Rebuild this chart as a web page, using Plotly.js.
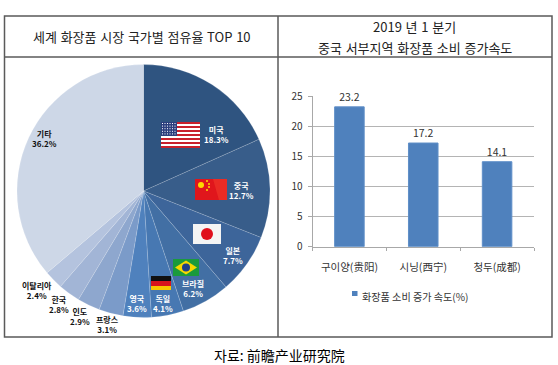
<!DOCTYPE html>
<html>
<head>
<meta charset="utf-8">
<script src="https://cdn.plot.ly/plotly-3.0.1.min.js"></script>
<style>html,body{margin:0;padding:0;background:#fff}</style>
</head>
<body>
<div id="chart" style="width:558px;height:365px"></div>
<script>
var W = 558, H = 365;
var countries = ['미국','중국','일본','브라질','독일','영국','프랑스','인도','한국','이탈리아','기타'];
var shares = [18.3,12.7,7.7,6.2,4.1,3.6,3.1,2.9,2.8,2.4,36.2];
var sliceColors = ['#2f5480','#385d8a','#3d659a','#426fa4','#4778b2','#4f81bd','#7b9bc9','#8ea7ce','#a2b5d6','#b4c3de','#cdd7e7'];
var labelX = [216,241,233,193,163,137,107,80,59,37,44];
var labelY = [134,190,255,288,303,303,324,316,304,290,138];
var labelColors = ['#fff','#fff','#fff','#fff','#fff','#fff','#111','#111','#111','#111','#111'];
var cities = ['구이양(贵阳)','시닝(西宁)','청두(成都)'];
var growth = [23.2,17.2,14.1];
var seriesName = '화장품 소비 증가 속도(%)';
var leftTitle = '세계 화장품 시장 국가별 점유율 TOP 10';
var rightTitle1 = '2019 년 1 분기';
var rightTitle2 = '중국 서부지역 화장품 소비 증가속도';
var sourceText = '자료: 前瞻产业研究院';
var FONT = '"Noto Sans CJK KR","Noto Sans CJK SC",sans-serif';

function px(x){return x/W;}
function py(y){return 1-y/H;}
function svg(w,h,body){
  return 'data:image/svg+xml;utf8,'+encodeURIComponent('<svg xmlns="http://www.w3.org/2000/svg" viewBox="0 0 '+w+' '+h+'" width="'+w+'" height="'+h+'" preserveAspectRatio="none">'+body+'</svg>');
}
function usFlag(){
  var s='<rect width="39" height="26" fill="#fff"/>';
  for(var i=0;i<7;i++) s+='<rect y="'+(i*4)+'" width="39" height="2" fill="#c8202c"/>';
  s+='<rect width="16" height="14" fill="#2c3f7e"/>';
  for(var r=0;r<5;r++)for(var c=0;c<6;c++) s+='<rect x="'+(1+c*2.5)+'" y="'+(1+r*2.6)+'" width="1" height="1" fill="#fff"/>';
  return svg(39,26,s);
}
function cnFlag(){
  var s='<rect width="32" height="21" fill="#e0161c"/><path d="M18 0H32V21H24Z" fill="#f03a2a" opacity=".6"/>';
  s+='<circle cx="6" cy="6" r="3" fill="#ffd800"/>';
  [[12,2],[14,5],[14,8],[12,11]].forEach(function(p){s+='<circle cx="'+p[0]+'" cy="'+p[1]+'" r="1" fill="#ffd800"/>';});
  return svg(32,21,s);
}
function jpFlag(){
  return svg(28,20,'<rect width="28" height="20" fill="#f4f4f4"/><circle cx="14" cy="10" r="6" fill="#e0101c"/>');
}
function brFlag(){
  return svg(26,17,'<rect width="26" height="17" fill="#1a9a3c"/><path d="M13 1.5L24 8.5L13 15.5L2 8.5Z" fill="#f6d800"/><circle cx="13" cy="8.5" r="4" fill="#1f3f8a"/>');
}
function deFlag(){
  return svg(20,14,'<rect width="20" height="5" fill="#111"/><rect y="5" width="20" height="5" fill="#d8141c"/><rect y="10" width="20" height="4" fill="#f8c800"/>');
}
function img(src,x0,y0,x1,y1){
  return {source:src,xref:'paper',yref:'paper',x:px(x0),y:py(y0),sizex:(x1-x0)/W,sizey:(y1-y0)/H,
          sizing:'stretch',xanchor:'left',yanchor:'top',layer:'above'};
}
var images = [
  img(usFlag(),161,122,200,148),
  img(cnFlag(),195,179,227,200),
  img(jpFlag(),193,224,221,244),
  img(brFlag(),173,259,199,276),
  img(deFlag(),151,276,171,290)
];

var annotations = [];
function note(text,x,y,size,color,extra){
  var a={text:text,xref:'paper',yref:'paper',x:px(x),y:py(y),showarrow:false,xanchor:'center',yanchor:'middle',
    font:{family:FONT,size:size,color:color||'#333'}};
  for(var k in extra||{}) a[k]=extra[k];
  annotations.push(a);
}
countries.forEach(function(c,i){
  note('<b>'+c+'</b><br><b>'+shares[i].toFixed(1)+'%</b>',labelX[i],labelY[i],8,labelColors[i]);
});
function wide(t){return t.replace(/ /g,'\u00a0\u200a');}
note(wide(leftTitle),141.5,36,13,'#222');
note(wide(rightTitle1),414,26,13,'#222');
note(wide(rightTitle2),415,47,13,'#222');
note(sourceText,279,355,14,'#000');
note(seriesName,360,296,10.1,'#333',{xanchor:'left'});

var line={color:'#5a5a5a',width:1.5};
function seg(x0,y0,x1,y1){
  return {type:'line',xref:'paper',yref:'paper',x0:px(x0),y0:py(y0),x1:px(x1),y1:py(y1),line:line};
}
var shapes=[
  {type:'rect',xref:'paper',yref:'paper',x0:px(4.5),y0:py(16),x1:px(552),y1:py(337),line:line},
  seg(278,16,278,337),
  seg(4.5,57,552,57),
  {type:'rect',xref:'paper',yref:'paper',x0:px(352),y0:py(291),x1:px(357.5),y1:py(296),fillcolor:'#4f81bd',line:{width:0}}
];

var pie={
  type:'pie',values:shares,labels:countries,sort:false,direction:'clockwise',rotation:0,
  marker:{colors:sliceColors,line:{color:'rgba(255,255,255,0.25)',width:0.6}},
  textinfo:'none',hoverinfo:'label+percent',showlegend:false,
  domain:{x:[px(17),px(270)],y:[py(317.5),py(64.5)]}
};
var bar={
  type:'bar',x:cities,y:growth,name:seriesName,showlegend:false,xaxis:'x',yaxis:'y',
  marker:{color:'#4f81bd',line:{color:'#5f8fc8',width:1}},
  text:growth.map(function(v){return v.toFixed(1);}),textposition:'outside',cliponaxis:false,
  textfont:{family:FONT,size:10.5,color:'#333'}
};
var layout={
  width:W,height:H,margin:{l:0,r:0,t:0,b:0},paper_bgcolor:'#fff',plot_bgcolor:'#fff',
  showlegend:false,bargap:0.6,
  xaxis:{domain:[px(312.5),px(534)],anchor:'y',type:'category',tickson:'boundaries',ticks:'outside',ticklen:3,
    tickcolor:'#a8a8a8',showline:true,linecolor:'#a8a8a8',linewidth:1,showgrid:false,zeroline:false,
    tickfont:{family:FONT,size:10.5,color:'#333'},ticklabelstandoff:11},
  yaxis:{domain:[py(246.7),py(96)],anchor:'x',range:[0,25],dtick:5,ticks:'outside',ticklen:4,
    tickcolor:'#a8a8a8',showline:true,linecolor:'#a8a8a8',linewidth:1,showgrid:true,gridcolor:'#b4b4b4',gridwidth:1,
    zeroline:false,tickfont:{family:FONT,size:10,color:'#333'},ticklabelstandoff:3},
  images:images,annotations:annotations,shapes:shapes
};
Plotly.newPlot('chart',[bar,pie],layout,{displayModeBar:false,staticPlot:true});
</script>
</body>
</html>
